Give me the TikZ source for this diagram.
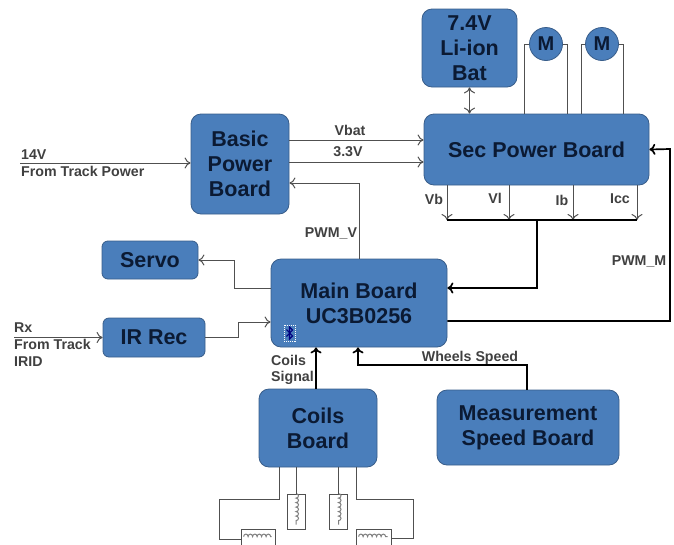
\documentclass[tikz,border=0pt]{standalone}
\usepackage{fontspec}
\setmainfont{Liberation Sans}
\usetikzlibrary{arrows.meta,calc,decorations.pathmorphing}
\definecolor{boxblue}{HTML}{4A7EBB}
\definecolor{boxedge}{HTML}{385D8A}
\definecolor{boxtext}{HTML}{0B1A33}
\definecolor{wiregray}{HTML}{505050}
\tikzset{
  board/.style={draw=boxedge, fill=boxblue, thick, rounded corners=10pt, align=center,
    text=boxtext, inner sep=0pt, font=\bfseries\fontsize{21.5}{25}\selectfont},
  motor/.style={circle, draw=boxedge, fill=boxblue, thick, minimum size=33pt, inner sep=0pt,
    text=boxtext, font=\bfseries\fontsize{20}{20}\selectfont},
  coilbox/.style={draw=wiregray, fill=white, thick, inner sep=0pt},
  coilwire/.style={draw=gray, line width=1pt, decorate, decoration={bumps,segment length=9pt,amplitude=2.5pt}},
  lbl/.style={align=left, inner sep=0pt, text=black!75, font=\bfseries\fontsize{14.2}{17}\selectfont},
  wire/.style={draw=wiregray, line width=1pt},
  bus/.style={draw=black, line width=1.7pt},
  tip/.style={-{To[length=6pt,width=11pt]}},
  bothtip/.style={{To[length=6pt,width=11pt]}-{To[length=6pt,width=11pt]}}
}
\begin{document}
\begin{tikzpicture}[x=1pt,y=-1pt]
\useasboundingbox (0,0) rectangle (674,544);
\clip (0,0) rectangle (674,544);

% boards
\node[board, minimum width=95pt, minimum height=78pt] (Bat) at (469.5,48) {7.4V\\Li-ion\\Bat};
\node[motor] (MotorA) at (546,44) {M};
\node[motor] (MotorB) at (602,44) {M};
\node[board, minimum width=225pt, minimum height=71pt] (Sec) at (536.5,149.5) {Sec Power Board};
\node[board, minimum width=98pt, minimum height=100pt] (Basic) at (240,164) {Basic\\Power\\Board};
\node[board, minimum width=96pt, minimum height=38pt, rounded corners=6pt] (Servo) at (150,260) {Servo};
\node[board, minimum width=176pt, minimum height=88pt] (Main) at (359,303) {Main Board\\UC3B0256};
\node[board, minimum width=102pt, minimum height=39pt, rounded corners=6pt] (IR) at (154,337.5) {IR Rec};
\node[board, minimum width=118pt, minimum height=78pt] (Coils) at (318,428) {Coils\\Board};
\node[board, minimum width=182pt, minimum height=75pt] (Speed) at (528,427.5) {Measurement\\Speed Board};

% coils
\node[coilbox, minimum width=18pt, minimum height=35pt] (CoilA) at (296,511.5) {};
\node[coilbox, minimum width=18pt, minimum height=35pt] (CoilB) at (338.5,511.5) {};
\node[coilbox, minimum width=34pt, minimum height=35pt] (CoilC) at (258,546.5) {};
\node[coilbox, minimum width=35pt, minimum height=35pt] (CoilD) at (373.5,546.5) {};
\draw[coilwire] (CoilA.north) -- +(0,31);
\draw[coilwire] (CoilB.north) -- +(0,31);
\draw[coilwire] ($(CoilC.north west)+(3,8)$) -- +(28,0);
\draw[coilwire] ($(CoilD.north west)+(3,8)$) -- +(29,0);
\draw[wire] (Coils.south -| CoilA.north) -- (CoilA.north);
\draw[wire] (Coils.south -| CoilB.north) -- (CoilB.north);
\draw[wire] (Coils.south -| 279,0) |- (219,499) |- (CoilC.west |- 0,539);
\draw[wire] (Coils.south -| 356,0) |- (413,499) |- (CoilD.east |- 0,538);

% power lines
\coordinate (TrackPower) at (20,163);
\coordinate (TrackIR) at (14,337.5);
\draw[wire,tip] (TrackPower) -- (Basic.west |- TrackPower);
\draw[wire,tip] (Basic.east |- 0,140) -- (Sec.west |- 0,140);
\draw[wire,tip] (Basic.east |- 0,162) -- (Sec.west |- 0,162);
\draw[wire,bothtip] (Bat.south) -- (Sec.north -| Bat.south);
\draw[wire,tip] (Main.north) |- (Basic.east |- 0,183);

% motor wires
\draw[wire] (MotorA.west) -- (524,44) -- (Sec.north -| 524,0);
\draw[wire] (MotorA.east) -- (567,44) -- (Sec.north -| 567,0);
\draw[wire] (MotorB.west) -- (581,44) -- (Sec.north -| 581,0);
\draw[wire] (MotorB.east) -- (623,44) -- (Sec.north -| 623,0);

% sense lines
\coordinate (BusL) at (447,220);
\coordinate (BusR) at (637,220);
\draw[wire,tip] (Sec.south -| 447,0) -- (BusL);
\draw[wire,tip] (Sec.south -| 509,0) -- (509,220);
\draw[wire,tip] (Sec.south -| 573,0) -- (573,220);
\draw[wire,tip] (Sec.south -| 637,0) -- (BusR);
\draw[bus] (BusL) -- (BusR);
\draw[bus,tip] (537,220) |- (Main.east |- 0,288);
\draw[bus,tip] (Main.east |- 0,321) -| (670,149) -- (Sec.east);

% main board lines
\draw[wire,tip] (Main.west |- 0,288) -| (234,260) -- (Servo.east);
\draw[wire,tip] (IR.east) -| (238,322) -- (Main.west |- 0,322);
\draw[wire,tip] (TrackIR) -- (IR.west);
\draw[bus,tip] (Coils.north -| 316,0) -- (Main.south -| 316,0);
\draw[bus,tip] (Speed.north -| 527,0) |- (358,365) -- (Main.south -| 358,0);

% bluetooth mark
\draw[white, densely dotted, line width=1pt] (284,325) rectangle (295,341);
\draw[blue!50!black, line width=1.1pt] (286.5,329.5) -- (292.5,336) -- (289.5,339) -- (289.5,327) -- (292.5,330) -- (286.5,336.5);

% labels
\node[lbl, anchor=north west] (LblPower) at (21,150) {14V\\From Track Power};
\node[lbl] (LblVbat) at (350,130) {Vbat};
\node[lbl] (LblThree) at (348,152) {3.3V};
\node[lbl] (LblPwmV) at (331,233) {PWM\_V};
\node[lbl] (LblPwmM) at (639,261) {PWM\_M};
\node[lbl] (LblVb) at (434,199) {Vb};
\node[lbl] (LblVl) at (495,198) {Vl};
\node[lbl] (LblIb) at (562,200) {Ib};
\node[lbl] (LblIcc) at (620,199) {Icc};
\node[lbl, anchor=north west] (LblRx) at (14,323) {Rx\\From Track\\IRID};
\node[lbl, anchor=north west, font=\bfseries\fontsize{14.2}{16}\selectfont] (LblCoils) at (271,355) {Coils\\Signal};
\node[lbl] (LblWheels) at (470,358) {Wheels Speed};
\end{tikzpicture}
\end{document}
